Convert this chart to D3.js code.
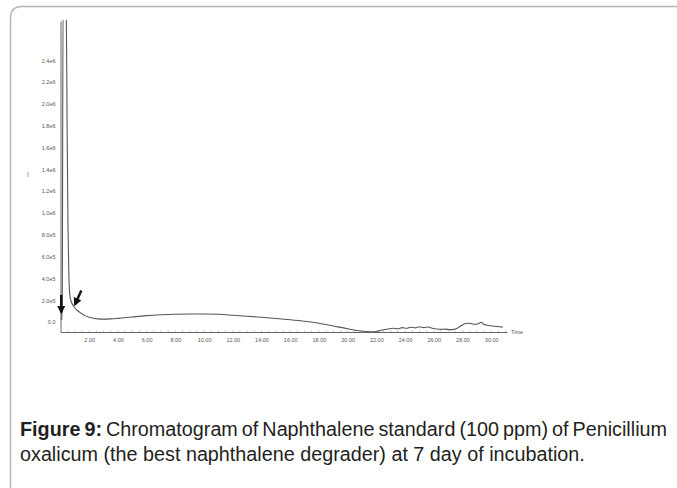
<!DOCTYPE html>
<html>
<head>
<meta charset="utf-8">
<script src="https://cdn.jsdelivr.net/npm/d3@7/dist/d3.min.js"></script>
<style>
  html, body { margin: 0; padding: 0; background: #fff; }
  svg { display: block; }
</style>
</head>
<body>
<svg id="chart" width="677" height="488"></svg>
<script>
// ---- data (time in minutes, abundance in units of 1e5) ----
const timeValues = [0.08, 0.12, 0.18, 0.40, 0.46, 0.52, 0.58, 0.64, 0.72, 0.85, 1.0, 1.2, 1.4, 1.7, 2.0, 2.3, 2.6, 3.0, 3.5, 4.0, 5.0, 6.0, 7.0, 8.0, 9.0, 10.0, 11.0, 12.0, 13.0, 14.0, 15.0, 16.0, 17.0, 18.0, 19.0, 20.0, 20.8, 21.5, 22.0, 22.4, 22.8, 23.2, 23.5, 23.8, 24.1, 24.4, 24.7, 25.0, 25.3, 25.6, 25.9, 26.2, 26.5, 26.8, 27.1, 27.4, 27.7, 28.0, 28.3, 28.6, 28.9, 29.1, 29.3, 29.5, 29.8, 30.1, 30.4, 30.8];
const abundanceValues = [0.2, 2.0, 29.0, 29.0, 18.0, 9.0, 4.5, 2.6, 2.0, 1.6, 1.3, 1.05, 0.85, 0.6, 0.45, 0.36, 0.3, 0.28, 0.3, 0.35, 0.48, 0.6, 0.68, 0.73, 0.75, 0.75, 0.72, 0.64, 0.55, 0.45, 0.34, 0.22, 0.08, -0.1, -0.35, -0.6, -0.78, -0.88, -0.85, -0.72, -0.62, -0.55, -0.6, -0.5, -0.56, -0.46, -0.52, -0.42, -0.5, -0.44, -0.55, -0.62, -0.66, -0.64, -0.68, -0.66, -0.5, -0.25, -0.1, -0.12, -0.2, -0.14, -0.0, -0.22, -0.3, -0.35, -0.4, -0.45];

const yTickValues = [0, 2, 4, 6, 8, 10, 12, 14, 16, 18, 20, 22, 24];
const yTickLabels = ["0.0", "2.0e5", "4.0e5", "6.0e5", "8.0e5", "1.0e6", "1.2e6", "1.4e6", "1.6e6", "1.8e6", "2.0e6", "2.2e6", "2.4e6"];
const xTickValues = [2, 4, 6, 8, 10, 12, 14, 16, 18, 20, 22, 24, 26, 28, 30];
const xTickLabels = ["2.00", "4.00", "6.00", "8.00", "10.00", "12.00", "14.00", "16.00", "18.00", "20.00", "22.00", "24.00", "26.00", "28.00", "30.00"];

// arrows: [fromTime, fromAbundance, toTime, toAbundance]
const arrowFrom = [[0.05, 2.5], [1.45, 2.9]];
const arrowTo = [[0.05, 0.9], [1.0, 1.6]];

const captionBold = "Figure 9:";
const captionLine1 = " Chromatogram of Naphthalene standard (100 ppm) of Penicillium";
const captionLine2 = "oxalicum (the best naphthalene degrader) at 7 day of incubation.";

// ---- layout ----
const svg = d3.select("#chart");
const x = d3.scaleLinear().domain([0, 31.1]).range([60.5, 507]);
const y = d3.scaleLinear().domain([-0.9, 27.6]).range([332, 21]);

// frame
svg.append("path")
  .attr("d", "M10.5,488 L10.5,18 Q10.5,6.5 22,6.5 L677,6.5")
  .attr("fill", "none").attr("stroke", "#b4b4b4").attr("stroke-width", 1.4);

// clip
svg.append("defs").append("clipPath").attr("id", "plotclip")
  .append("rect").attr("x", 58).attr("y", 20).attr("width", 460).attr("height", 320);

// axes
const xAxisG = svg.append("g").attr("transform", `translate(0,${y(-0.9)})`);
xAxisG.call(d3.axisBottom(x).tickValues(xTickValues).tickSize(0).tickPadding(6)
  .tickFormat((d, i) => xTickLabels[i]));
xAxisG.select(".domain").attr("stroke", "#666").attr("stroke-width", 1);
xAxisG.selectAll("text").attr("font-family", "Liberation Sans, Arial, sans-serif")
  .attr("font-size", 5.5).attr("fill", "#555");

// minor ticks on x axis
const minor = d3.range(0.5, 31.01, 0.5);
xAxisG.selectAll("line.minor").data(minor).join("line")
  .attr("class", "minor")
  .attr("x1", d => x(d)).attr("x2", d => x(d))
  .attr("y1", 0).attr("y2", -1.5)
  .attr("stroke", "#999").attr("stroke-width", 0.6);

const yAxisG = svg.append("g").attr("transform", `translate(${x(0)},0)`);
yAxisG.call(d3.axisLeft(y).tickValues(yTickValues).tickSize(0).tickPadding(5)
  .tickFormat((d, i) => yTickLabels[i]));
yAxisG.select(".domain").attr("stroke", "#666").attr("stroke-width", 1);
yAxisG.selectAll("text").attr("font-family", "Liberation Sans, Arial, sans-serif")
  .attr("font-size", 5.5).attr("fill", "#555");

// axis labels
svg.append("text").attr("x", x(31.1) + 4).attr("y", y(-0.9) + 1.5)
  .attr("font-family", "Liberation Sans, Arial, sans-serif").attr("font-size", 5.5)
  .attr("fill", "#555").text("Time");
svg.append("text").attr("x", 27).attr("y", y(13.3))
  .attr("font-family", "Liberation Sans, Arial, sans-serif").attr("font-size", 7)
  .attr("fill", "#777").text("I");

// chromatogram line
const pts = timeValues.map((t, i) => [t, abundanceValues[i]]);
const line = d3.line().x(d => x(d[0])).y(d => y(d[1])).curve(d3.curveMonotoneX);
svg.append("path").datum(pts)
  .attr("clip-path", "url(#plotclip)")
  .attr("d", line)
  .attr("fill", "none").attr("stroke", "#555").attr("stroke-width", 1.1);

// arrows
const defs = svg.select("defs");
defs.append("marker").attr("id", "ah").attr("viewBox", "0 0 10 10")
  .attr("refX", 8).attr("refY", 5).attr("markerWidth", 3.5).attr("markerHeight", 3.5)
  .attr("orient", "auto")
  .append("path").attr("d", "M0,0 L10,5 L0,10 z").attr("fill", "#111");
svg.selectAll("line.arrow").data(arrowFrom).join("line")
  .attr("class", "arrow")
  .attr("x1", d => x(d[0])).attr("y1", d => y(d[1]))
  .attr("x2", (d, i) => x(arrowTo[i][0])).attr("y2", (d, i) => y(arrowTo[i][1]))
  .attr("stroke", "#111").attr("stroke-width", 2.4)
  .attr("marker-end", "url(#ah)");

// caption
const font = "Liberation Sans, Arial, sans-serif";
const l2 = svg.append("text").attr("x", 20).attr("y", 461)
  .attr("font-family", font).attr("font-size", 18).attr("fill", "#231f20")
  .text(captionLine2);
const w2 = l2.node().getComputedTextLength();
const fs = 18 * 565 / w2;
l2.attr("font-size", fs);

const l1 = svg.append("text").attr("x", 20).attr("y", 436)
  .attr("font-family", font).attr("font-size", fs).attr("fill", "#231f20");
l1.append("tspan").attr("font-weight", "bold").text(captionBold);
l1.append("tspan").text(captionLine1);
const w1 = l1.node().getComputedTextLength();
const spaces = (captionBold + captionLine1).split(" ").length - 1;
const ws = (647 - w1) / spaces;
l1.attr("word-spacing", ws);
</script>
</body>
</html>
